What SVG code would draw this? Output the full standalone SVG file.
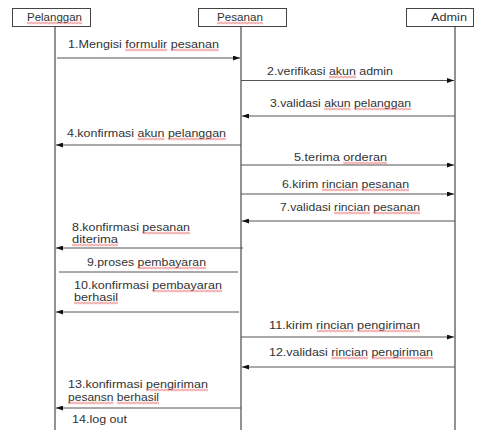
<svg xmlns="http://www.w3.org/2000/svg" width="479" height="430" viewBox="0 0 479 430">
  <style>
    .box { fill: #ffffff; stroke: #444444; stroke-width: 1; }
    .life { stroke: #4a4a4a; stroke-width: 1.2; fill: none; }
    .msg { stroke: #555555; stroke-width: 1; fill: none; }
    .arr { marker-end: url(#head); }
    text { font-family: "Liberation Sans", Arial, sans-serif; font-size: 10.5px; fill: #333333; }
    .hd { text-anchor: middle; }
    .sq { fill: url(#wave); }
  </style>
  <defs>
    <marker id="head" viewBox="0 0 7 5" refX="7" refY="2.5" markerWidth="7" markerHeight="5" markerUnits="userSpaceOnUse" orient="auto">
      <path d="M0,0 L7,2.5 L0,5 Z" fill="#111111"/>
    </marker>
    <!-- red spell-check squiggle tile -->
    <pattern id="wave" patternUnits="userSpaceOnUse" width="4" height="3">
      <path d="M0,0.8 L2,2.2 L4,0.8" fill="none" stroke="#e02828" stroke-width="0.8"/>
    </pattern>
  </defs>

  <!-- participants -->
  <g id="pelanggan">
    <rect class="box" x="12.5" y="8.5" width="78" height="18"/>
    <line class="life" x1="55" y1="27" x2="55" y2="430"/>
    <text class="hd" x="54.5" y="20.5" textLength="55" lengthAdjust="spacingAndGlyphs">Pelanggan</text>
    <rect class="sq" transform="translate(27,21.5)" width="55" height="3"/>
  </g>
  <g id="pesanan">
    <rect class="box" x="198.5" y="8.5" width="88" height="18"/>
    <line class="life" x1="241" y1="27" x2="241" y2="430"/>
    <text class="hd" x="240" y="20.5" textLength="46" lengthAdjust="spacingAndGlyphs">Pesanan</text>
    <rect class="sq" transform="translate(217,21.5)" width="46" height="3"/>
  </g>
  <g id="admin">
    <rect class="box" x="406.5" y="8.5" width="67" height="18"/>
    <line class="life" x1="455" y1="27" x2="455" y2="430"/>
    <text class="hd" x="449" y="20.5" textLength="36" lengthAdjust="spacingAndGlyphs">Admin</text>
  </g>

  <!-- messages -->
  <g id="connectors">
    <line class="msg arr" x1="57" y1="58" x2="240" y2="58"/>
    <line class="msg arr" x1="241" y1="80.5" x2="454" y2="80.5"/>
    <line class="msg arr" x1="455" y1="116" x2="242" y2="116"/>
    <line class="msg arr" x1="241" y1="145" x2="56" y2="145"/>
    <line class="msg arr" x1="241" y1="165" x2="454" y2="165"/>
    <line class="msg arr" x1="241" y1="194" x2="454" y2="194"/>
    <line class="msg arr" x1="455" y1="221" x2="242" y2="221"/>
    <line class="msg arr" x1="243" y1="248" x2="56" y2="248"/>
    <line class="msg" x1="59" y1="272" x2="238" y2="272"/>
    <line class="msg arr" x1="239" y1="312" x2="56" y2="312"/>
    <line class="msg arr" x1="241" y1="337" x2="454" y2="337"/>
    <line class="msg arr" x1="455" y1="367" x2="242" y2="367"/>
    <line class="msg arr" x1="241" y1="408" x2="56" y2="408"/>
  </g>

  <!-- message labels -->
  <g id="labels">
    <text x="68" y="47.5" textLength="151" lengthAdjust="spacingAndGlyphs">1.Mengisi formulir pesanan</text>
    <text x="267" y="74.5" textLength="126" lengthAdjust="spacingAndGlyphs">2.verifikasi akun admin</text>
    <text x="270" y="106.5" textLength="141" lengthAdjust="spacingAndGlyphs">3.validasi akun pelanggan</text>
    <text x="67" y="136.5" textLength="159" lengthAdjust="spacingAndGlyphs">4.konfirmasi akun pelanggan</text>
    <text x="294" y="160.5" textLength="93" lengthAdjust="spacingAndGlyphs">5.terima orderan</text>
    <text x="282" y="187.5" textLength="127" lengthAdjust="spacingAndGlyphs">6.kirim rincian pesanan</text>
    <text x="280" y="210.5" textLength="140" lengthAdjust="spacingAndGlyphs">7.validasi rincian pesanan</text>
    <text x="72" y="230.5" textLength="118" lengthAdjust="spacingAndGlyphs">8.konfirmasi pesanan</text>
    <text x="72" y="242.5" textLength="46" lengthAdjust="spacingAndGlyphs">diterima</text>
    <text x="87" y="265.5" textLength="119" lengthAdjust="spacingAndGlyphs">9.proses pembayaran</text>
    <text x="74" y="288.5" textLength="148" lengthAdjust="spacingAndGlyphs">10.konfirmasi pembayaran</text>
    <text x="74" y="300.5" textLength="44" lengthAdjust="spacingAndGlyphs">berhasil</text>
    <text x="269" y="328.5" textLength="151" lengthAdjust="spacingAndGlyphs">11.kirim rincian pengiriman</text>
    <text x="269" y="355.5" textLength="164" lengthAdjust="spacingAndGlyphs">12.validasi rincian pengiriman</text>
    <text x="68" y="387.5" textLength="140" lengthAdjust="spacingAndGlyphs">13.konfirmasi pengiriman</text>
    <text x="68" y="400.5" textLength="91" lengthAdjust="spacingAndGlyphs">pesansn berhasil</text>
    <text x="72" y="422.5" textLength="55" lengthAdjust="spacingAndGlyphs">14.log out</text>
  </g>

  <!-- spell-check squiggles under flagged words -->
  <g id="squiggles">
    <rect class="sq" transform="translate(125.3,48.5)" width="42" height="3"/>
    <rect class="sq" transform="translate(170.7,48.5)" width="48" height="3"/>
    <rect class="sq" transform="translate(329,75.5)" width="27" height="3"/>
    <rect class="sq" transform="translate(324.2,107.5)" width="26.4" height="3"/>
    <rect class="sq" transform="translate(354.1,107.5)" width="57" height="3"/>
    <rect class="sq" transform="translate(137.5,137.5)" width="27" height="3"/>
    <rect class="sq" transform="translate(167.9,137.5)" width="58" height="3"/>
    <rect class="sq" transform="translate(343.3,161.5)" width="43.7" height="3"/>
    <rect class="sq" transform="translate(321.8,188.5)" width="36.4" height="3"/>
    <rect class="sq" transform="translate(361.6,188.5)" width="47.4" height="3"/>
    <rect class="sq" transform="translate(334.1,211.5)" width="35.8" height="3"/>
    <rect class="sq" transform="translate(373.3,211.5)" width="46.7" height="3"/>
    <rect class="sq" transform="translate(142.4,231.5)" width="47.6" height="3"/>
    <rect class="sq" transform="translate(72,243.5)" width="46" height="3"/>
    <rect class="sq" transform="translate(137.6,266.5)" width="68.4" height="3"/>
    <rect class="sq" transform="translate(152.2,289.5)" width="69.8" height="3"/>
    <rect class="sq" transform="translate(74,301.5)" width="44" height="3"/>
    <rect class="sq" transform="translate(316.8,329.5)" width="37.2" height="3"/>
    <rect class="sq" transform="translate(357.5,329.5)" width="62.5" height="3"/>
    <rect class="sq" transform="translate(331.3,356.5)" width="36.7" height="3"/>
    <rect class="sq" transform="translate(371.4,356.5)" width="61.6" height="3"/>
    <rect class="sq" transform="translate(146,388.5)" width="62" height="3"/>
    <rect class="sq" transform="translate(68,401.5)" width="45.5" height="3"/>
    <rect class="sq" transform="translate(116.9,401.5)" width="42.1" height="3"/>
  </g>
</svg>
